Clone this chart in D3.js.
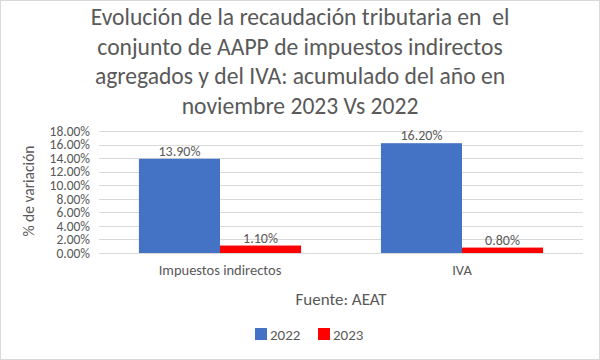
<!DOCTYPE html>
<html>
<head>
<meta charset="utf-8">
<script src="https://cdn.jsdelivr.net/npm/d3@7"></script>
<style>
  body { margin: 0; background: #fff; }
  text { font-family: Carlito, "Open Sans", sans-serif; fill: #595959; }
</style>
</head>
<body>
<script>
// data
const categories = ['Impuestos indirectos', 'IVA'];
const seriesNames = ['2022', '2023'];
const values2022 = [0.139, 0.162];
const values2023 = [0.011, 0.008];
const yTicks = [0, 0.02, 0.04, 0.06, 0.08, 0.10, 0.12, 0.14, 0.16, 0.18];
const titleLines = [
    'Evolución de la recaudación tributaria en  el',
    'conjunto de AAPP de impuestos indirectos',
    'agregados y del IVA: acumulado del año en',
    'noviembre 2023 Vs 2022'
];

const colors = ['#4472C4', '#FF0000'];

let w = 600,
    h = 360;

let margin = { left: 99, right: 17, top: 131, bottom: 107 };

let svg = d3.select('body')
    .append('svg')
    .attr('width', w)
    .attr('height', h);

// chart border
svg.append('rect')
    .attr('x', 0.5).attr('y', 0.5)
    .attr('width', w - 1).attr('height', h - 1)
    .attr('fill', '#fff')
    .attr('stroke', '#d9d9d9');

// title
svg.append('g')
    .selectAll('text')
    .data(titleLines)
    .enter()
    .append('text')
    .attr('x', 300)
    .attr('y', (d, i) => 25 + i * 29.5)
    .attr('text-anchor', 'middle')
    .style('font-size', '23.6px')
    .style('white-space', 'pre')
    .text(d => d);

let x = d3.scaleBand()
    .domain(categories)
    .range([margin.left, w - margin.right])
    .paddingInner(0.33)
    .paddingOuter(0.165);

let x1 = d3.scaleBand()
    .domain(seriesNames)
    .range([0, x.bandwidth()]);

let y = d3.scaleLinear()
    .domain([0, 0.18])
    .range([h - margin.bottom, margin.top]);

// gridlines
svg.append('g')
    .selectAll('line')
    .data(yTicks)
    .enter()
    .append('line')
    .attr('x1', margin.left)
    .attr('x2', w - margin.right)
    .attr('y1', d => Math.round(y(d)) + 0.5)
    .attr('y2', d => Math.round(y(d)) + 0.5)
    .attr('stroke', '#d9d9d9');

// y axis
let yAxis = d3.axisLeft(y)
    .tickValues(yTicks)
    .tickFormat(d3.format('.2%'))
    .tickSize(0)
    .tickPadding(9);

svg.append('g')
    .attr('transform', `translate(${margin.left},0)`)
    .call(yAxis)
    .call(g => g.select('.domain').remove())
    .selectAll('text')
    .style('font-size', '13.5px')
    .attr('fill', '#595959')
    .style('font-family', 'Carlito, "Open Sans", sans-serif');

// y label
svg.append('text')
    .attr('transform', 'translate(34,191) rotate(-90)')
    .attr('text-anchor', 'middle')
    .style('font-size', '15.5px')
    .text('% de variación');

// x axis labels
let xAxis = d3.axisBottom(x).tickSize(0).tickPadding(12);
svg.append('g')
    .attr('transform', `translate(0,${h - margin.bottom})`)
    .call(xAxis)
    .call(g => g.select('.domain').remove())
    .selectAll('text')
    .style('font-size', '14.5px')
    .attr('fill', '#595959')
    .style('font-family', 'Carlito, "Open Sans", sans-serif');

// bars
let rows = categories.map((c, i) => ({ cat: c, vals: [values2022[i], values2023[i]] }));

let groups = svg.selectAll('.grp')
    .data(rows)
    .enter()
    .append('g')
    .attr('class', 'grp')
    .attr('transform', d => `translate(${x(d.cat)},0)`);

groups.selectAll('rect')
    .data(d => d.vals.map((v, j) => ({ key: seriesNames[j], v: v, j: j })))
    .enter()
    .append('rect')
    .attr('x', d => x1(d.key))
    .attr('y', d => y(d.v))
    .attr('width', x1.bandwidth())
    .attr('height', d => y(0) - y(d.v))
    .attr('fill', d => colors[d.j]);

groups.selectAll('.lbl')
    .data(d => d.vals.map((v, j) => ({ key: seriesNames[j], v: v })))
    .enter()
    .append('text')
    .attr('class', 'lbl')
    .attr('x', d => x1(d.key) + x1.bandwidth() / 2)
    .attr('y', d => y(d.v) - 3)
    .attr('text-anchor', 'middle')
    .style('font-size', '14px')
    .text(d => d3.format('.2%')(d.v));

// source
svg.append('text')
    .attr('x', 341)
    .attr('y', 305)
    .attr('text-anchor', 'middle')
    .style('font-size', '17px')
    .text('Fuente: AEAT');

// legend
let legend = svg.append('g')
    .attr('transform', 'translate(255,328)');

let items = legend.selectAll('g')
    .data(seriesNames)
    .enter()
    .append('g')
    .attr('transform', (d, i) => `translate(${i * 63},0)`);

items.append('rect')
    .attr('width', 12)
    .attr('height', 12)
    .attr('fill', (d, i) => colors[i]);

items.append('text')
    .attr('x', 15)
    .attr('y', 12)
    .style('font-size', '15px')
    .text(d => d);
</script>
</body>
</html>
